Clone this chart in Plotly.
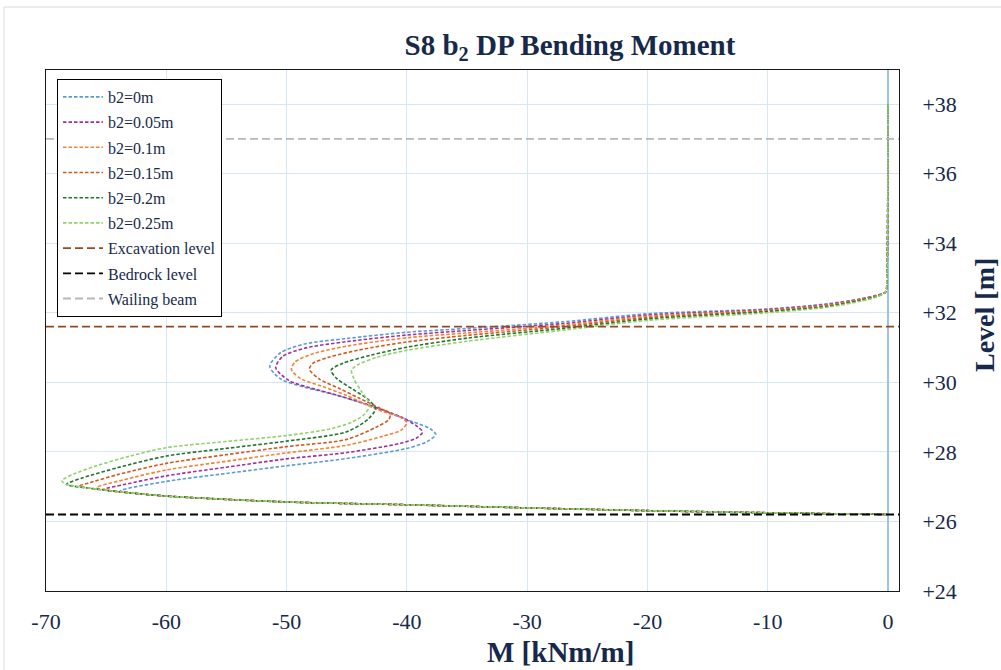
import plotly.graph_objects as go

# ---------------- data ----------------
SERIES_NAMES = ["b2=0m", "b2=0.05m", "b2=0.1m", "b2=0.15m", "b2=0.2m", "b2=0.25m"]
SERIES_COLORS = ["#5B9BD5", "#A2309A", "#F4823A", "#D45A1C", "#23752E", "#8FD46B"]

# Bending moment M [kNm/m] vs level [m]  (top -> bottom)
M_B000 = [0.0, -0.1, -0.2, -1.0, -2.3, -5.0, -10, -20, -27, -35, -40, -45, -48.5, -50.5, -51.4,
          -50.5, -48.5, -46.4, -43.5, -40.0, -38.0, -37.6, -38.3, -40.0, -45, -50, -55, -60, -63.8,
          -60, -50, -40, -30, -20, -10, 0.0]
LV_B000 = [38.0, 33.0, 32.6, 32.5, 32.4, 32.26, 32.11, 31.97, 31.74, 31.55, 31.44, 31.26, 31.1, 30.85, 30.46,
           30.1, 29.86, 29.68, 29.38, 28.93, 28.65, 28.5, 28.3, 28.1, 27.81, 27.6, 27.38, 27.15, 26.88,
           26.73, 26.56, 26.48, 26.39, 26.31, 26.25, 26.2]

M_B005 = [0.0, -0.1, -0.2, -1.0, -2.3, -5.0, -10, -20, -27, -35, -40, -45, -48.5, -50.3, -50.9,
          -49.8, -48.0, -46.0, -43.0, -40.5, -39.2, -38.7, -39.2, -40.5, -45, -50, -55, -60, -63.5, -65.2,
          -63.8, -60, -50, -40, -30, -20, -10, 0.0]
LV_B005 = [38.0, 33.0, 32.6, 32.49, 32.39, 32.24, 32.09, 31.93, 31.69, 31.49, 31.36, 31.17, 30.98, 30.75, 30.42,
           30.05, 29.84, 29.65, 29.33, 29.0, 28.75, 28.57, 28.4, 28.25, 27.98, 27.8, 27.56, 27.31, 27.06, 26.92,
           26.85, 26.73, 26.56, 26.48, 26.39, 26.31, 26.25, 26.2]

M_B010 = [0.0, -0.1, -0.2, -1.0, -2.3, -5.0, -10, -20, -27, -35, -40, -45, -48.0, -49.3, -49.6,
          -48.8, -47.0, -45.0, -42.5, -40.6, -40.0, -40.5, -42.0, -45, -50, -55, -60, -63.5, -65.8,
          -63.8, -60, -50, -40, -30, -20, -10, 0.0]
LV_B010 = [38.0, 33.0, 32.6, 32.48, 32.38, 32.22, 32.07, 31.9, 31.64, 31.42, 31.28, 31.04, 30.8, 30.58, 30.37,
           30.1, 29.88, 29.62, 29.22, 29.0, 28.84, 28.62, 28.45, 28.19, 27.97, 27.73, 27.48, 27.2, 26.97,
           26.85, 26.73, 26.56, 26.48, 26.39, 26.31, 26.25, 26.2]

M_B015 = [0.0, -0.1, -0.2, -1.0, -2.3, -5.0, -10, -20, -27, -35, -40, -44, -46.5, -47.8, -48.1,
          -47.3, -45.6, -44.0, -42.2, -41.4, -41.5, -42.5, -45, -50, -55, -60, -64, -66.5, -67.2,
          -65.8, -63.8, -60, -50, -40, -30, -20, -10, 0.0]
LV_B015 = [38.0, 33.0, 32.6, 32.47, 32.37, 32.2, 32.05, 31.86, 31.6, 31.35, 31.16, 30.93, 30.72, 30.55, 30.38,
           30.1, 29.82, 29.55, 29.25, 29.1, 28.93, 28.72, 28.36, 28.15, 27.92, 27.67, 27.35, 27.1, 27.02,
           26.93, 26.85, 26.73, 26.56, 26.48, 26.39, 26.31, 26.25, 26.2]

M_B020 = [0.0, -0.1, -0.2, -1.0, -2.3, -5.0, -10, -20, -27, -35, -40, -43, -45.3, -46.3,
          -45.8, -44.5, -43.2, -42.6, -43.2, -45, -50, -55, -60, -64, -67, -68.3,
          -65.8, -63.8, -60, -50, -40, -30, -20, -10, 0.0]
LV_B020 = [38.0, 33.0, 32.6, 32.46, 32.35, 32.18, 32.03, 31.82, 31.55, 31.27, 31.01, 30.78, 30.55, 30.35,
           30.1, 29.8, 29.5, 29.25, 28.95, 28.58, 28.31, 28.1, 27.88, 27.55, 27.25, 27.07,
           26.93, 26.85, 26.73, 26.56, 26.48, 26.39, 26.31, 26.25, 26.2]

M_B025 = [0.0, -0.1, -0.2, -1.0, -2.3, -5.0, -10, -20, -27, -35, -40, -42.5, -44.0, -44.6,
          -44.4, -43.8, -43.2, -43.1, -43.6, -44.6, -46.4, -50, -55, -60, -63, -65.8, -67.7, -68.7,
          -68.3, -65.8, -63.8, -60, -50, -40, -30, -20, -10, 0.0]
LV_B025 = [38.0, 33.0, 32.6, 32.45, 32.33, 32.16, 32.0, 31.78, 31.5, 31.18, 30.92, 30.72, 30.52, 30.35,
           30.1, 29.75, 29.45, 29.3, 29.06, 28.85, 28.66, 28.47, 28.3, 28.12, 27.88, 27.6, 27.36, 27.17,
           27.07, 26.93, 26.85, 26.73, 26.56, 26.48, 26.39, 26.31, 26.25, 26.2]

SERIES_M = [M_B000, M_B005, M_B010, M_B015, M_B020, M_B025]
SERIES_LV = [LV_B000, LV_B005, LV_B010, LV_B015, LV_B020, LV_B025]

LEVEL_NAMES = ["Excavation level", "Bedrock level", "Wailing beam"]
LEVEL_VALUES = [31.6, 26.2, 37.0]
LEVEL_COLORS = ["#954A26", "#000000", "#B8B8B8"]

X_RANGE = [-70, 0.91]
Y_RANGE = [24, 38.98]
X_TICKS = [-70, -60, -50, -40, -30, -20, -10, 0]
Y_TICKS = [24, 26, 28, 30, 32, 34, 36, 38]

TEXT = "#17294A"
FONT = "Liberation Serif, Times New Roman, serif"

# ---------------- figure ----------------
fig = go.Figure()

for name, color, mv, lv in zip(SERIES_NAMES, SERIES_COLORS, SERIES_M, SERIES_LV):
    fig.add_trace(go.Scatter(
        x=mv, y=lv, mode="lines", name=name, legendgroup=name,
        line=dict(color=color, width=1.6, dash="3.5px,2px", shape="spline", smoothing=0.8),
        hoverinfo="skip",
    ))

for name, lvl, color in zip(LEVEL_NAMES, LEVEL_VALUES, LEVEL_COLORS):
    fig.add_trace(go.Scatter(
        x=X_RANGE, y=[lvl, lvl], mode="lines", name=name, legendgroup=name,
        line=dict(color=color, width=1.8, dash="8px,4px"),
        hoverinfo="skip",
    ))

# plot area: x 46..899, y 70..591
L, R, T, B = 46, 102, 70, 79
PW, PH = 1001 - L - R, 670 - T - B

fig.update_layout(
    width=1001, height=670,
    margin=dict(l=L, r=R, t=T, b=B, pad=0),
    paper_bgcolor="white", plot_bgcolor="white",
    font=dict(family=FONT, color=TEXT),
    title=dict(text="<b>S8 b<sub>2</sub> DP Bending Moment</b>", xref="container", x=570 / 1001,
               xanchor="center", y=1 - 45 / 670, yanchor="middle",
               font=dict(family=FONT, size=29, color=TEXT)),
    showlegend=True,
    legend=dict(x=(57 - L) / PW, y=(T + PH - 79) / PH, xanchor="left", yanchor="top",
                bgcolor="white", bordercolor="#000000", borderwidth=1,
                font=dict(family=FONT, size=16, color=TEXT),
                traceorder="grouped", tracegroupgap=1.4, itemwidth=40),
    xaxis=dict(range=X_RANGE, tickvals=X_TICKS, ticktext=[str(v) for v in X_TICKS],
               showgrid=True, gridcolor="#D7E5F6", gridwidth=1,
               zeroline=True, zerolinecolor="#9FC2EA", zerolinewidth=1.5,
               showline=True, linecolor="#1a1a1a", linewidth=1, mirror=True,
               ticks="", ticklabelstandoff=11,
               tickfont=dict(family=FONT, size=22, color=TEXT)),
    yaxis=dict(range=Y_RANGE, tickvals=Y_TICKS, tickformat="+d", side="right",
               showgrid=True, gridcolor="#D7E5F6", gridwidth=1, zeroline=False,
               showline=True, linecolor="#1a1a1a", linewidth=1, mirror=True,
               ticks="", ticklabelstandoff=18,
               tickfont=dict(family=FONT, size=22, color=TEXT)),
    annotations=[
        dict(text="<b>M [kNm/m]</b>", xref="paper", yref="paper",
             x=(560 - L) / PW, y=(T + PH - 652) / PH, xanchor="center", yanchor="middle",
             showarrow=False, font=dict(family=FONT, size=29, color=TEXT)),
        dict(text="<b>Level [m]</b>", xref="paper", yref="paper", textangle=-90,
             x=(984 - L) / PW, y=(T + PH - 315) / PH, xanchor="center", yanchor="middle",
             showarrow=False, font=dict(family=FONT, size=28, color=TEXT)),
    ],
    shapes=[
        dict(type="rect", xref="paper", yref="paper",
             x0=(4 - L) / PW, x1=(1040 - L) / PW, y0=(T + PH - 700) / PH, y1=(T + PH - 7) / PH,
             line=dict(color="#D9D9D9", width=1), fillcolor="rgba(0,0,0,0)", layer="below"),
    ],
)

fig.write_html("out.html")
